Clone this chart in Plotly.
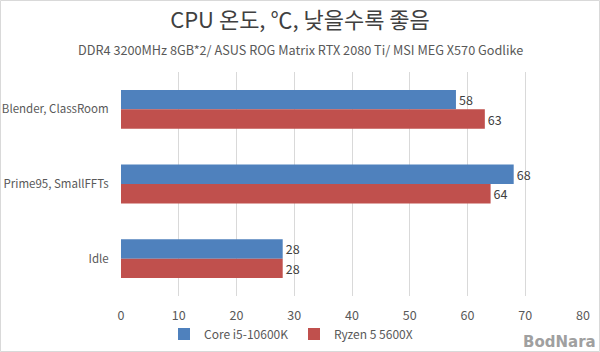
import plotly.graph_objects as go

categories = ["Blender, ClassRoom", "Prime95, SmallFFTs", "Idle"]
intel_vals = [58, 68, 28]
amd_vals = [63, 64, 28]
series_names = ["Core i5-10600K", "Ryzen 5 5600X"]
x_ticks = [0, 10, 20, 30, 40, 50, 60, 70, 80]

W, H = 600, 352
L, R, T, B = 121, 17, 72, 56
pw, ph = W - L - R, H - T - B

FONT = "Noto Sans CJK KR"

fig = go.Figure()
fig.add_trace(go.Bar(
    y=categories, x=intel_vals, name=series_names[0], orientation="h",
    marker=dict(color="#4F81BD", line=dict(width=0)),
    text=intel_vals, textposition="outside", cliponaxis=False,
    textfont=dict(size=12.5, color="#404040", family=FONT),
))
fig.add_trace(go.Bar(
    y=categories, x=amd_vals, name=series_names[1], orientation="h",
    marker=dict(color="#C0504D", line=dict(width=0)),
    text=amd_vals, textposition="outside", cliponaxis=False,
    textfont=dict(size=12.5, color="#404040", family=FONT),
))

fig.update_layout(
    width=W, height=H,
    margin=dict(l=L, r=R, t=T, b=B, autoexpand=False),
    paper_bgcolor="white", plot_bgcolor="white",
    font=dict(family=FONT, color="#595959", size=12),
    barmode="group", bargap=0.48, bargroupgap=0,
    showlegend=True,
    legend=dict(orientation="h", x=0.49, xref="container", xanchor="center",
                y=18 / H, yref="container", yanchor="middle",
                font=dict(size=12, color="#595959"),
                itemwidth=30, entrywidth=85, traceorder="normal"),
    xaxis=dict(range=[0, 80], tickvals=x_ticks, showgrid=True, automargin=False,
               gridcolor="#D9D9D9", gridwidth=1, zeroline=False,
               showline=False, ticks="outside", ticklen=8, tickcolor="rgba(0,0,0,0)",
               tickfont=dict(size=12.5, color="#595959")),
    yaxis=dict(autorange="reversed", showgrid=False, zeroline=False, automargin=False,
               showline=False, ticks="outside", ticklen=9, tickcolor="rgba(0,0,0,0)",
               tickfont=dict(size=11.5, color="#595959")),
    title=dict(text="CPU 온도, ℃, 낮을수록 좋음", x=0.5, xref="container", xanchor="center",
               y=1 - 20 / H, yref="container", yanchor="middle",
               font=dict(size=22, color="#404040", family=FONT)),
)

fig.add_annotation(text="DDR4 3200MHz 8GB*2/ ASUS ROG Matrix RTX 2080 Ti/ MSI MEG X570 Godlike",
                   xref="paper", yref="paper",
                   x=(300 - L) / pw, y=1 + (T - 50) / ph,
                   xanchor="center", yanchor="middle", showarrow=False,
                   font=dict(size=12.7, color="#595959", family=FONT))
fig.add_annotation(text="<b>BodNara</b>", xref="paper", yref="paper",
                   x=(598 - L) / pw, y=-(342 - T - ph) / ph,
                   xanchor="right", yanchor="middle", showarrow=False,
                   font=dict(size=15, color="#A0A0A0", family="DejaVu Sans"))
fig.add_shape(type="rect", xref="paper", yref="paper",
              x0=-(L - 0.5) / pw, x1=1 + (R - 0.5) / pw,
              y0=-(B - 0.5) / ph, y1=1 + (T - 0.5) / ph,
              line=dict(color="#D9D9D9", width=1), fillcolor="rgba(0,0,0,0)")

fig.write_html("out.html")
